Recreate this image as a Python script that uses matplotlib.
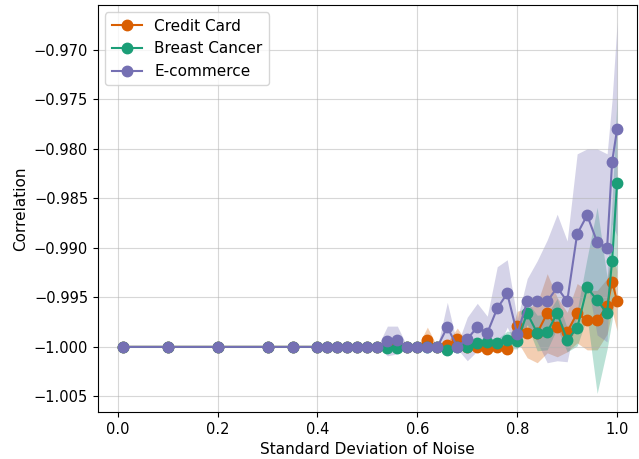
import numpy as np
import matplotlib.pyplot as plt

plt.rcParams["font.size"] = 11

# noise levels (x) shared by all three datasets
noise_std = [0.01, 0.10, 0.20, 0.30, 0.35, 0.40, 0.42, 0.44, 0.46, 0.48,
             0.50, 0.52, 0.54, 0.56, 0.58, 0.60, 0.62, 0.64, 0.66, 0.68,
             0.70, 0.72, 0.74, 0.76, 0.78, 0.80, 0.82, 0.84, 0.86, 0.88,
             0.90, 0.92, 0.94, 0.96, 0.98, 0.99, 1.00]

# mean correlation per dataset (first 12 points sit at -1.0)
flat = [-1.0] * 12
zero = [0.0] * 12

credit_mean = flat + [
    -0.9997, -1.0000, -1.0000, -1.0000, -0.9993, -1.0000, -0.9998, -0.9992,
    -1.0000, -1.0000, -1.0002, -1.0000, -1.0002, -0.9979, -0.9986, -0.9986,
    -0.9966, -0.9980, -0.9985, -0.9966, -0.9973, -0.9973, -0.9959, -0.9934,
    -0.9954]
credit_std = zero + [
    0.0005, 0.0003, 0.0, 0.0, 0.0013, 0.0, 0.0003, 0.0011,
    0.0004, 0.0002, 0.0004, 0.0002, 0.0004, 0.0015, 0.0025, 0.0030,
    0.0040, 0.0030, 0.0020, 0.0030, 0.0030, 0.0030, 0.0028, 0.0030,
    0.0030]

cancer_mean = flat + [
    -1.0001, -1.0001, -1.0000, -1.0000, -1.0000, -1.0000, -1.0003, -1.0000,
    -1.0000, -0.9996, -0.9995, -0.9996, -0.9993, -0.9994, -0.9966, -0.9986,
    -0.9985, -0.9966, -0.9993, -0.9981, -0.9940, -0.9953, -0.9966, -0.9913,
    -0.9834]
cancer_std = zero + [
    0.0002, 0.0002, 0.0, 0.0, 0.0, 0.0, 0.0003, 0.0002,
    0.0001, 0.0003, 0.0003, 0.0004, 0.0009, 0.0008, 0.0012, 0.0018,
    0.0018, 0.0015, 0.0012, 0.0018, 0.0030, 0.0094, 0.0036, 0.0060,
    0.0088]

ecom_mean = flat + [
    -0.9994, -0.9993, -1.0000, -1.0000, -1.0000, -1.0000, -0.9980, -1.0000,
    -0.9992, -0.9980, -0.9986, -0.9961, -0.9946, -0.9987, -0.9954, -0.9954,
    -0.9954, -0.9940, -0.9954, -0.9886, -0.9867, -0.9894, -0.9900, -0.9813,
    -0.9780]
ecom_std = zero + [
    0.0015, 0.0014, 0.0, 0.0, 0.0, 0.0, 0.0025, 0.0002,
    0.0022, 0.0024, 0.0017, 0.0042, 0.0034, 0.0015, 0.0023, 0.0041,
    0.0062, 0.0074, 0.0061, 0.0081, 0.0067, 0.0094, 0.0095, 0.0063,
    0.0108]

labels = ["Credit Card", "Breast Cancer", "E-commerce"]
colors = ["#d95f02", "#1b9e77", "#7570b3"]

fig = plt.figure(figsize=(6.39, 4.59), dpi=100)
ax = fig.add_axes([0.153, 0.1025, 0.844, 0.887])

series = [(credit_mean, credit_std), (cancer_mean, cancer_std), (ecom_mean, ecom_std)]
x = np.array(noise_std)
for (m, s), lab, c in zip(series, labels, colors):
    m = np.array(m)
    s = np.array(s)
    ax.plot(x, m, marker="o", markersize=7.5, color=c, linewidth=1.5, label=lab)
    ax.fill_between(x, m - s, m + s, color=c, alpha=0.3, linewidth=0)

ax.set_xlim(-0.04, 1.04)
ax.set_ylim(-1.00657, -0.96545)
ax.set_yticks([-1.005, -1.000, -0.995, -0.990, -0.985, -0.980, -0.975, -0.970])
ax.ticklabel_format(axis="y", useOffset=False)
ax.tick_params(labelsize=10.5)
ax.set_xlabel("Standard Deviation of Noise")
ax.set_ylabel("Correlation")
ax.grid(True, alpha=0.5)
ax.legend(loc="upper left")

fig.savefig("out.png", dpi=100)
